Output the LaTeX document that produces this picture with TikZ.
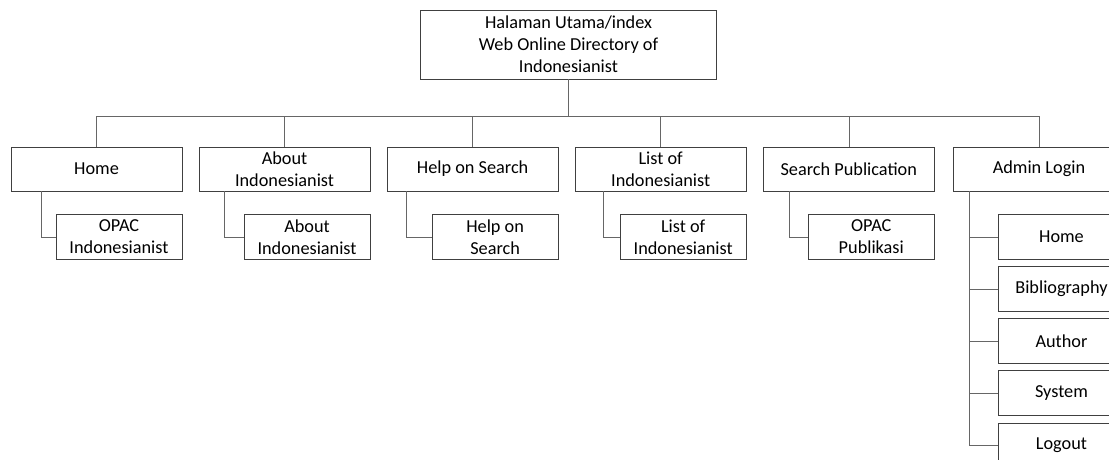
\documentclass[tikz,border=0pt]{standalone}
\usepackage{fontspec}
\setmainfont{Carlito}
\usepackage{tikz}
\usetikzlibrary{positioning}

\begin{document}
\begin{tikzpicture}[x=0.75pt, y=-0.75pt, node distance=12.4pt,
font=\fontsize{13.7}{16.5}\selectfont,
root/.style={rectangle,draw=black!75,fill=white,inner sep=0pt,minimum width=222pt,minimum height=51.75pt,align=center},
menu/.style={rectangle,draw=black!75,fill=white,inner sep=0pt,minimum width=128.25pt,minimum height=33pt,align=center},
submenu/.style={rectangle,draw=black!75,fill=white,inner sep=0pt,minimum width=94.5pt,minimum height=33.75pt,align=center},
links/.style={draw=black!60, thin}
]
\useasboundingbox (0,0) rectangle (1109,460);

%create nodes
\node[root] (idx) at (568.5,44.5) {Halaman Utama/index\\Web Online Directory of\\Indonesianist};

\node[menu] (home) at (96.5,169) {Home};
\node[menu, right=of home] (about) {About\\Indonesianist};
\node[menu, right=of about] (help) {Help on Search};
\node[menu, right=of help] (list) {List of\\Indonesianist};
\node[menu, right=of list] (search) {Search Publication};
\node[menu, right=14pt of search] (admin) {Admin Login};

\node[submenu, anchor=north east] (opac) at ([yshift=-17.25pt]home.south east) {OPAC\\Indonesianist};
\node[submenu, anchor=north east] (aboutsub) at ([yshift=-17.25pt]about.south east) {About\\Indonesianist};
\node[submenu, anchor=north east] (helpsub) at ([yshift=-17.25pt]help.south east) {Help on\\Search};
\node[submenu, anchor=north east] (listsub) at ([yshift=-17.25pt]list.south east) {List of\\Indonesianist};
\node[submenu, anchor=north east] (pub) at ([yshift=-17.25pt]search.south east) {OPAC\\Publikasi};

\node[submenu, anchor=north west] (ahome) at ([xshift=33.75pt,yshift=-17.25pt]admin.south west) {Home};
\node[submenu, below=4.9pt of ahome] (abib) {Bibliography};
\node[submenu, below=4.9pt of abib] (aauthor) {Author};
\node[submenu, below=4.9pt of aauthor] (asystem) {System};
\node[submenu, below=4.9pt of asystem] (alogout) {Logout};

%draw paths
\foreach \m in {home,about,help,list,search,admin}
  \draw[links] (idx.south) -- ++(0,37) -| (\m.north);

\draw[links] ([xshift=23pt]home.south west) |- (opac.west);
\draw[links] ([xshift=19pt]about.south west) |- (aboutsub.west);
\draw[links] ([xshift=14.5pt]help.south west) |- (helpsub.west);
\draw[links] ([xshift=21.5pt]list.south west) |- (listsub.west);
\draw[links] ([xshift=19.5pt]search.south west) |- (pub.west);

\foreach \s in {ahome,abib,aauthor,asystem,alogout}
  \draw[links] ([xshift=12pt]admin.south west) |- (\s.west);

\end{tikzpicture}
\end{document}
